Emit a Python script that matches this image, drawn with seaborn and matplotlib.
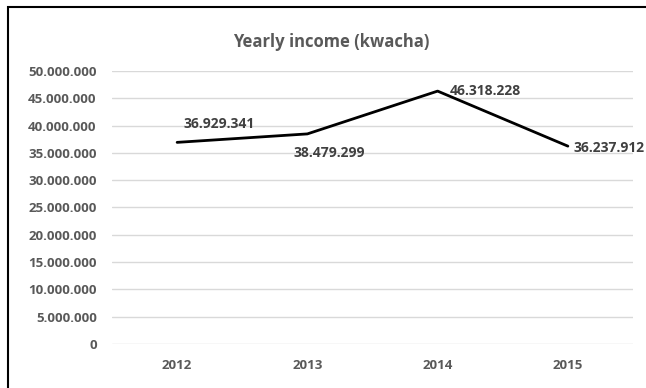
import matplotlib
matplotlib.use("Agg")
import matplotlib.pyplot as plt
import seaborn as sns
import pandas as pd
from matplotlib.patches import Rectangle

years = ["2012", "2013", "2014", "2015"]
income = [36929341, 38479299, 46318228, 36237912]
yticks = [0, 5000000, 10000000, 15000000, 20000000, 25000000,
          30000000, 35000000, 40000000, 45000000, 50000000]
title = "Yearly income (kwacha)"

def fmt(v):
    return f"{v:,}".replace(",", ".")

sns.set_style("white")
plt.rcParams['font.family'] = ['Open Sans', 'DejaVu Sans']

df = pd.DataFrame({"year": years, "income": income})

fig = plt.figure(figsize=(6.46, 3.88), dpi=100)
ax = fig.add_axes([112/646, 44/388, (633-112)/646, (344-71)/388])

sns.lineplot(data=df, x="year", y="income", ax=ax, color="black",
             linewidth=2.0, sort=False)

ax.set_xlim(-0.5, 3.5)
ax.set_ylim(0, 50000000)
ax.set_yticks(yticks)
ax.set_yticklabels([fmt(t) for t in yticks])
ax.set_xlabel("")
ax.set_ylabel("")
ax.grid(axis="y", color="#d9d9d9", linewidth=1.0)
ax.grid(axis="x", visible=False)
for s in ax.spines.values():
    s.set_visible(False)
ax.tick_params(axis="both", length=0, labelcolor="#595959", labelsize=9.5)
ax.tick_params(axis="y", pad=11)
ax.tick_params(axis="x", pad=11)
for lab in ax.get_xticklabels() + ax.get_yticklabels():
    lab.set_fontweight("bold")

fig.text(331/646, 1 - 42/388, title, ha="center", va="center",
         fontsize=12, fontweight="bold", color="#595959")

# data labels: offsets in points
offsets = [(30, 13, "center"), (16, -14, "center"), (9, 0, "left"), (4, -1, "left")]
for i, (v, (dx, dy, ha)) in enumerate(zip(income, offsets)):
    ax.annotate(fmt(v), (i, v), xytext=(dx, dy), textcoords="offset points",
                ha=ha, va="center", fontsize=10, fontweight="bold",
                color="#404040")

fig.patches.append(Rectangle((8/646, -0.2), 2, 1.2 - 7/388,
                             transform=fig.transFigure, fill=False,
                             edgecolor="black", linewidth=1.5))

fig.savefig("out.png", dpi=100)
